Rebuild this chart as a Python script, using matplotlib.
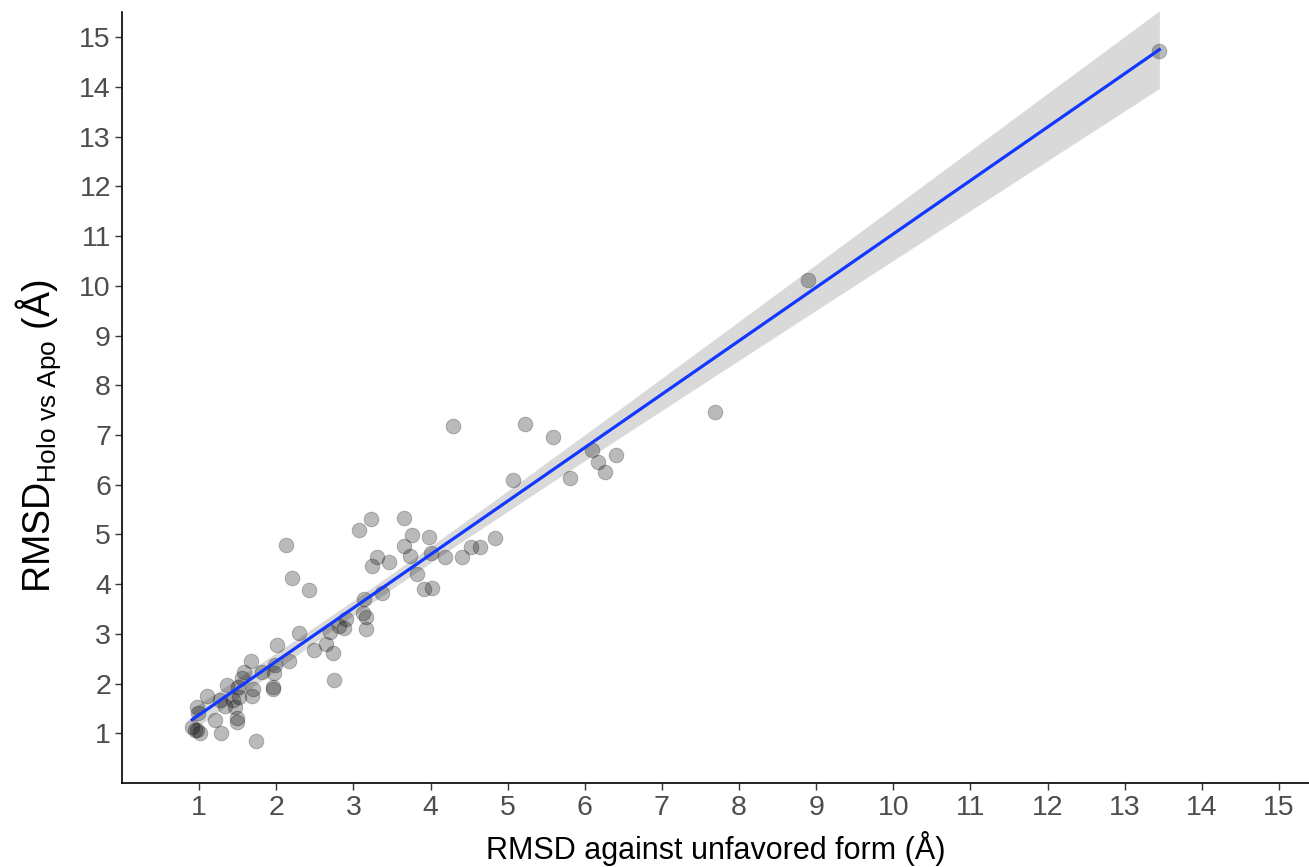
import numpy as np
import matplotlib
matplotlib.use('Agg')
import matplotlib.pyplot as plt

# RMSD against unfavored form (x) vs RMSD holo vs apo (y), values in angstrom
rmsd_unfavored = [0.91, 0.95, 0.97, 1.01, 0.97, 0.99, 1.10, 1.20, 1.27, 1.28,
                  1.33, 1.36, 1.44, 1.46, 1.49, 1.49, 1.51, 1.52, 1.55, 1.58,
                  1.67, 1.68, 1.70, 1.74, 1.81, 1.96, 1.96, 1.97, 1.98, 2.01,
                  2.16, 2.13, 2.21, 2.29, 2.43, 2.49, 2.65, 2.73, 2.75, 2.70,
                  2.81, 2.88, 2.90, 3.07, 3.13, 3.14, 3.17, 3.17, 3.23, 3.24,
                  3.31, 3.37, 3.46, 3.65, 3.66, 3.74, 3.76, 3.83, 3.91, 3.98,
                  4.00, 4.02, 4.19, 4.29, 4.41, 4.53, 4.64, 4.84, 5.07, 5.22,
                  5.59, 5.81, 6.09, 6.17, 6.26, 6.41, 7.69, 8.90, 13.45]
rmsd_holo_apo = [1.13, 1.07, 1.07, 1.00, 1.53, 1.40, 1.75, 1.27, 1.67, 1.00,
                 1.54, 1.98, 1.67, 1.52, 1.30, 1.23, 1.94, 1.72, 2.11, 2.24,
                 2.45, 1.74, 1.90, 0.85, 2.24, 1.94, 1.90, 2.21, 2.37, 2.78,
                 2.45, 4.79, 4.12, 3.01, 3.89, 2.68, 2.79, 2.61, 2.07, 3.04,
                 3.15, 3.11, 3.30, 5.08, 3.41, 3.70, 3.33, 3.09, 5.31, 4.37,
                 4.55, 3.82, 4.45, 4.77, 5.33, 4.57, 4.98, 4.20, 3.90, 4.94,
                 4.62, 3.93, 4.55, 7.19, 4.55, 4.75, 4.75, 4.93, 6.09, 7.22,
                 6.95, 6.14, 6.69, 6.45, 6.26, 6.60, 7.46, 10.11, 14.73]

X_TICKS = list(range(1, 16))
Y_TICKS = list(range(1, 16))

plt.rcParams['font.family'] = ['Liberation Sans', 'DejaVu Sans']
plt.rcParams['mathtext.fontset'] = 'custom'
plt.rcParams['mathtext.rm'] = 'Liberation Sans'
plt.rcParams['mathtext.it'] = 'Liberation Sans'

x = np.array(rmsd_unfavored)
y = np.array(rmsd_holo_apo)

# linear fit with 95% confidence band
slope, intercept = np.polyfit(x, y, 1)
n = len(x)
resid = y - (slope * x + intercept)
s = np.sqrt(np.sum(resid ** 2) / (n - 2))
sxx = np.sum((x - x.mean()) ** 2)
t_val = 1.99
xs = np.linspace(x.min(), x.max(), 200)
fit = slope * xs + intercept
band = t_val * s * np.sqrt(1.0 / n + (xs - x.mean()) ** 2 / sxx)

fig = plt.figure(figsize=(13.09, 8.67), dpi=100)
ax = fig.add_axes([0.0932, 0.0969, 0.9068, 0.8893])

ax.scatter(x, y, s=112, color='black', alpha=0.27, linewidths=0.6, zorder=2)
ax.fill_between(xs, fit - band, fit + band, color='#d9d9d9', lw=0, zorder=1)
ax.plot(xs, fit, color='#1238ff', lw=2.3, zorder=3)

ax.set_xlim(0, 15.39)
ax.set_ylim(0, 15.51)
ax.set_xticks(X_TICKS)
ax.set_yticks(Y_TICKS)
ax.tick_params(axis='both', labelsize=20.5, labelcolor='#4d4d4d',
               color='#333333', length=5, width=1)
ax.tick_params(axis='x', pad=4)
ax.tick_params(axis='y', pad=3)

for side in ['top', 'right']:
    ax.spines[side].set_visible(False)
for side in ['left', 'bottom']:
    ax.spines[side].set_linewidth(1.2)
    ax.spines[side].set_color('black')

ax.set_xlabel('RMSD against unfavored form (Å)', fontsize=22, labelpad=7)
ax.set_ylabel(r'$\mathrm{RMSD}_{\mathrm{Holo\ vs\ Apo}}$ (Å)', fontsize=27)
ax.yaxis.set_label_coords(-0.05, 0.45)

fig.savefig('out.png', dpi=100)
